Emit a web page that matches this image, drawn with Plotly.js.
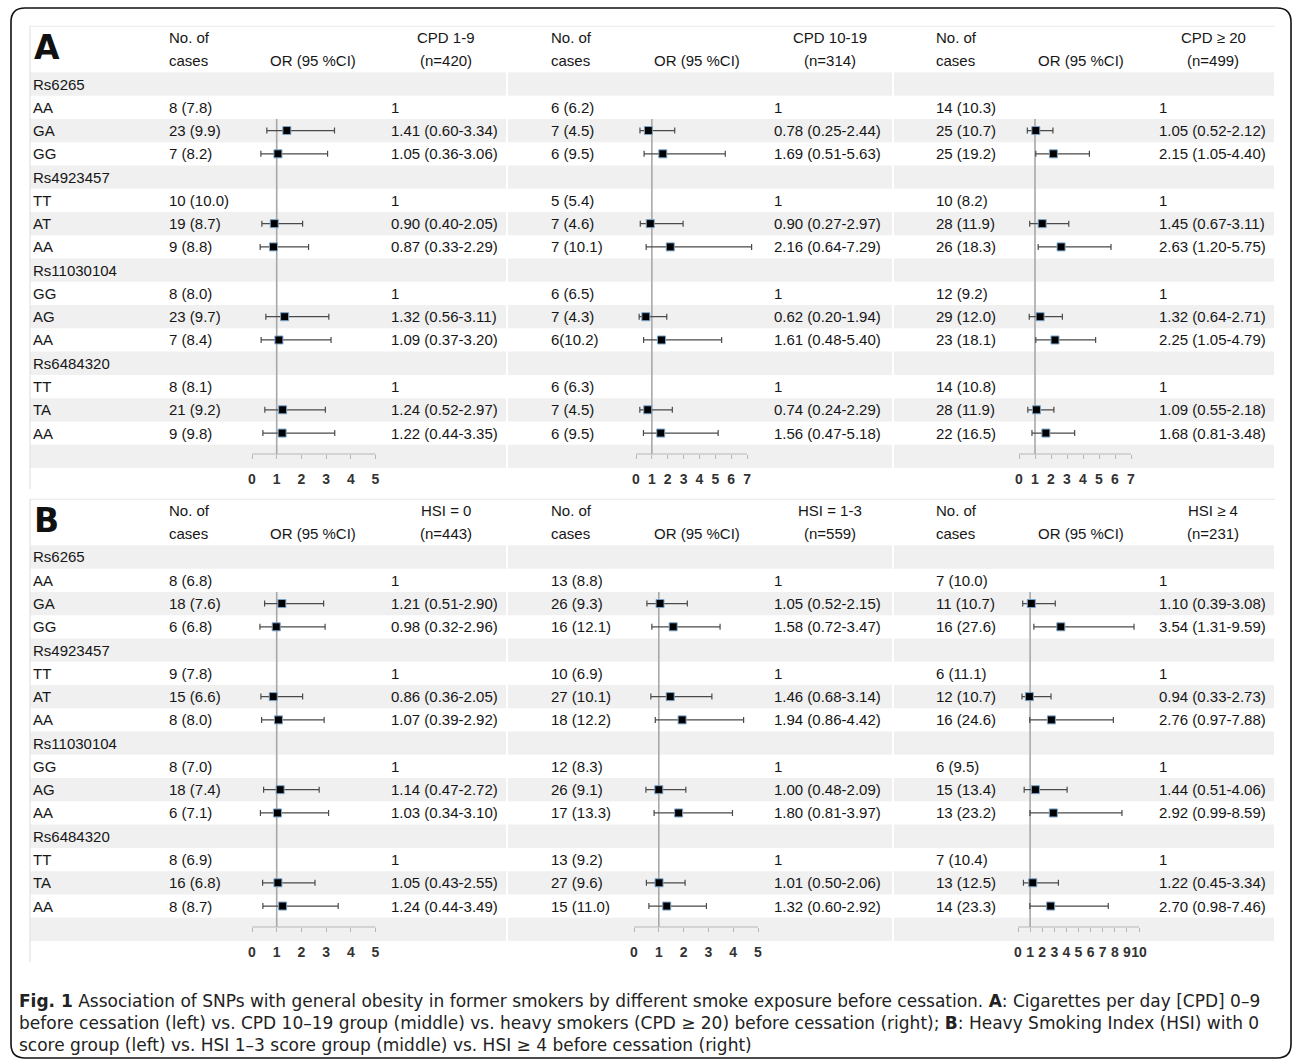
<!DOCTYPE html>
<html>
<head>
<meta charset="utf-8">
<script src="https://cdn.plot.ly/plotly-3.0.1.min.js"></script>
<style>
html,body{margin:0;padding:0;background:#fff;}
#chart{width:1292px;height:1061px;}
</style>
</head>
<body>
<div id="chart"></div>
<script>
// ---------------- DATA ----------------
const snpNames = ['Rs6265', 'Rs4923457', 'Rs11030104', 'Rs6484320'];
const genotypes = [['AA', 'GA', 'GG'], ['TT', 'AT', 'AA'], ['GG', 'AG', 'AA'], ['TT', 'TA', 'AA']];

const groupsA = ['CPD 1-9', 'CPD 10-19', 'CPD \u2265 20'];
const nA = ['(n=420)', '(n=314)', '(n=499)'];
const groupsB = ['HSI = 0', 'HSI = 1-3', 'HSI \u2265 4'];
const nB = ['(n=443)', '(n=559)', '(n=231)'];

// Panel A, CPD 1-9
const casesA1 = ['8 (7.8)', '23 (9.9)', '7 (8.2)', '10 (10.0)', '19 (8.7)', '9 (8.8)', '8 (8.0)', '23 (9.7)', '7 (8.4)', '8 (8.1)', '21 (9.2)', '9 (9.8)'];
const orA1 = [1, 1.41, 1.05, 1, 0.90, 0.87, 1, 1.32, 1.09, 1, 1.24, 1.22];
const loA1 = [null, 0.60, 0.36, null, 0.40, 0.33, null, 0.56, 0.37, null, 0.52, 0.44];
const hiA1 = [null, 3.34, 3.06, null, 2.05, 2.29, null, 3.11, 3.20, null, 2.97, 3.35];
// Panel A, CPD 10-19
const casesA2 = ['6 (6.2)', '7 (4.5)', '6 (9.5)', '5 (5.4)', '7 (4.6)', '7 (10.1)', '6 (6.5)', '7 (4.3)', '6(10.2)', '6 (6.3)', '7 (4.5)', '6 (9.5)'];
const orA2 = [1, 0.78, 1.69, 1, 0.90, 2.16, 1, 0.62, 1.61, 1, 0.74, 1.56];
const loA2 = [null, 0.25, 0.51, null, 0.27, 0.64, null, 0.20, 0.48, null, 0.24, 0.47];
const hiA2 = [null, 2.44, 5.63, null, 2.97, 7.29, null, 1.94, 5.40, null, 2.29, 5.18];
// Panel A, CPD >= 20
const casesA3 = ['14 (10.3)', '25 (10.7)', '25 (19.2)', '10 (8.2)', '28 (11.9)', '26 (18.3)', '12 (9.2)', '29 (12.0)', '23 (18.1)', '14 (10.8)', '28 (11.9)', '22 (16.5)'];
const orA3 = [1, 1.05, 2.15, 1, 1.45, 2.63, 1, 1.32, 2.25, 1, 1.09, 1.68];
const loA3 = [null, 0.52, 1.05, null, 0.67, 1.20, null, 0.64, 1.05, null, 0.55, 0.81];
const hiA3 = [null, 2.12, 4.40, null, 3.11, 5.75, null, 2.71, 4.79, null, 2.18, 3.48];
// Panel B, HSI = 0
const casesB1 = ['8 (6.8)', '18 (7.6)', '6 (6.8)', '9 (7.8)', '15 (6.6)', '8 (8.0)', '8 (7.0)', '18 (7.4)', '6 (7.1)', '8 (6.9)', '16 (6.8)', '8 (8.7)'];
const orB1 = [1, 1.21, 0.98, 1, 0.86, 1.07, 1, 1.14, 1.03, 1, 1.05, 1.24];
const loB1 = [null, 0.51, 0.32, null, 0.36, 0.39, null, 0.47, 0.34, null, 0.43, 0.44];
const hiB1 = [null, 2.90, 2.96, null, 2.05, 2.92, null, 2.72, 3.10, null, 2.55, 3.49];
// Panel B, HSI = 1-3
const casesB2 = ['13 (8.8)', '26 (9.3)', '16 (12.1)', '10 (6.9)', '27 (10.1)', '18 (12.2)', '12 (8.3)', '26 (9.1)', '17 (13.3)', '13 (9.2)', '27 (9.6)', '15 (11.0)'];
const orB2 = [1, 1.05, 1.58, 1, 1.46, 1.94, 1, 1.00, 1.80, 1, 1.01, 1.32];
const loB2 = [null, 0.52, 0.72, null, 0.68, 0.86, null, 0.48, 0.81, null, 0.50, 0.60];
const hiB2 = [null, 2.15, 3.47, null, 3.14, 4.42, null, 2.09, 3.97, null, 2.06, 2.92];
// Panel B, HSI >= 4
const casesB3 = ['7 (10.0)', '11 (10.7)', '16 (27.6)', '6 (11.1)', '12 (10.7)', '16 (24.6)', '6 (9.5)', '15 (13.4)', '13 (23.2)', '7 (10.4)', '13 (12.5)', '14 (23.3)'];
const orB3 = [1, 1.10, 3.54, 1, 0.94, 2.76, 1, 1.44, 2.92, 1, 1.22, 2.70];
const loB3 = [null, 0.39, 1.31, null, 0.33, 0.97, null, 0.51, 0.99, null, 0.45, 0.98];
const hiB3 = [null, 3.08, 9.59, null, 2.73, 7.88, null, 4.06, 8.59, null, 3.34, 7.46];

// Axis ticks
const ticksA1 = [0, 1, 2, 3, 4, 5];
const ticksA2 = [0, 1, 2, 3, 4, 5, 6, 7];
const ticksA3 = [0, 1, 2, 3, 4, 5, 6, 7];
const ticksB1 = [0, 1, 2, 3, 4, 5];
const ticksB2 = [0, 1, 2, 3, 4, 5];
const ticksB3 = [0, 1, 2, 3, 4, 5, 6, 7, 8, 9, 10];

const panelLetters = ['A', 'B'];
const captionLines = [
  '<b>Fig. 1</b> Association of SNPs with general obesity in former smokers by different smoke exposure before cessation. <b>A</b>: Cigarettes per day [CPD] 0\u20139',
  'before cessation (left) vs. CPD 10\u201319 group (middle) vs. heavy smokers (CPD \u2265 20) before cessation (right); <b>B</b>: Heavy Smoking Index (HSI) with 0',
  'score group (left) vs. HSI 1\u20133 score group (middle) vs. HSI \u2265 4 before cessation (right)'
];

// ---------------- LAYOUT GEOMETRY ----------------
const W = 1292, H = 1061, P = 23.27;
const panelTop = [84, 557];           // pixel centre of row 0 in each panel
const forestPx = [[252, 24.7], [636, 15.86], [1019, 16.0], [252, 24.7], [634, 24.8], [1018, 12.1]];
const casesX = [167, 549, 934];
const orHeadX = [313, 697, 1081];
const textX = [389, 772, 1157];
const groupX = [446, 830, 1213];
const bandSegs = [[30, 506], [508, 892], [894, 1274]];
const AXROW = 15.9;
const FONT = 'Arial, "Liberation Sans", sans-serif';
const TXT = '#161616';

// rows
const rowLabels = [];
const geneRows = [];
snpNames.forEach((s, i) => {
  rowLabels.push(s);
  genotypes[i].forEach(g => { geneRows.push(rowLabels.length); rowLabels.push(g); });
});

const forests = [
  {p: 0, g: 0, cases: casesA1, or: orA1, lo: loA1, hi: hiA1, ticks: ticksA1, head: groupsA[0], n: nA[0]},
  {p: 0, g: 1, cases: casesA2, or: orA2, lo: loA2, hi: hiA2, ticks: ticksA2, head: groupsA[1], n: nA[1]},
  {p: 0, g: 2, cases: casesA3, or: orA3, lo: loA3, hi: hiA3, ticks: ticksA3, head: groupsA[2], n: nA[2]},
  {p: 1, g: 0, cases: casesB1, or: orB1, lo: loB1, hi: hiB1, ticks: ticksB1, head: groupsB[0], n: nB[0]},
  {p: 1, g: 1, cases: casesB2, or: orB2, lo: loB2, hi: hiB2, ticks: ticksB2, head: groupsB[1], n: nB[1]},
  {p: 1, g: 2, cases: casesB3, or: orB3, lo: loB3, hi: hiB3, ticks: ticksB3, head: groupsB[2], n: nB[2]}
];

function yDom(p) {
  const top = panelTop[p] - 2.5 * P, bot = panelTop[p] + 17.5 * P;
  return [1 - bot / H, 1 - top / H];
}
function rowPaper(p, r) { const d = yDom(p); return d[0] + (17.5 - r) / 20 * (d[1] - d[0]); }
const yName = p => (p === 0 ? 'y' : 'y2');

const layout = {
  width: W, height: H,
  margin: {l: 0, r: 0, t: 0, b: 0},
  paper_bgcolor: '#fff', plot_bgcolor: 'rgba(0,0,0,0)',
  showlegend: false,
  yaxis: {domain: yDom(0), range: [17.5, -2.5], visible: false, fixedrange: true, anchor: 'x'},
  yaxis2: {domain: yDom(1), range: [17.5, -2.5], visible: false, fixedrange: true, anchor: 'x4'},
  shapes: [], annotations: []
};
const traces = [];

function ann(p, xpx, row, text, opt) {
  layout.annotations.push(Object.assign({
    xref: 'paper', yref: yName(p), x: xpx / W, y: row, text: text, showarrow: false,
    xanchor: 'left', yanchor: 'middle', font: {family: FONT, size: 15, color: TXT}
  }, opt || {}));
}

// bands, borders, left labels, letters
[0, 1].forEach(p => {
  for (let r = 0; r <= 16; r += 2) {
    bandSegs.forEach(s => layout.shapes.push({
      type: 'rect', layer: 'below', xref: 'paper', yref: yName(p),
      x0: s[0] / W, x1: s[1] / W, y0: r - 0.5, y1: r + 0.5,
      fillcolor: '#f0f0f0', line: {width: 0}
    }));
  }
  layout.shapes.push({type: 'line', layer: 'below', xref: 'paper', yref: yName(p),
    x0: 30 / W, x1: 1275 / W, y0: -2.5, y1: -2.5, line: {color: '#dedede', width: 1.2}});
  layout.shapes.push({type: 'line', layer: 'below', xref: 'paper', yref: yName(p),
    x0: 30 / W, x1: 30 / W, y0: -2.5, y1: 17.4, line: {color: '#e2e2e2', width: 1.2}});
  rowLabels.forEach((lab, r) => ann(p, 31, r, lab));
  ann(p, 32, -1.55, '<b>' + panelLetters[p] + '</b>', {font: {family: 'DejaVu Sans, Arial, sans-serif', size: 33, color: '#111'}});
});

// forests
forests.forEach((f, i) => {
  const xn = i === 0 ? 'x' : 'x' + (i + 1);
  const xk = i === 0 ? 'xaxis' : 'xaxis' + (i + 1);
  const px0 = forestPx[i][0], u = forestPx[i][1];
  const T = f.ticks[f.ticks.length - 1];
  const rmax = T * 1.3;
  layout[xk] = {
    domain: [(px0 - 0.5 * u) / W, (px0 + rmax * u) / W], range: [-0.5, rmax],
    anchor: 'free', position: rowPaper(f.p, AXROW),
    showgrid: false, zeroline: false, showline: false,
    ticks: 'outside', ticklen: 4, tickwidth: 1, tickcolor: '#b5b5b5',
    tickvals: f.ticks, ticktext: f.ticks.map(String), tickangle: 0,
    tickfont: {family: FONT, size: 14, color: '#333', weight: 'bold'},
    ticklabelstandoff: 8, fixedrange: true
  };
  // axis line spanning the tick range
  layout.shapes.push({type: 'line', layer: 'below', xref: xn, yref: yName(f.p),
    x0: f.ticks[0], x1: T, y0: AXROW, y1: AXROW, line: {color: '#b5b5b5', width: 1.2}});
  // reference line at OR = 1
  layout.shapes.push({type: 'line', layer: 'below', xref: xn, yref: yName(f.p),
    x0: 1, x1: 1, y0: 1.5, y1: AXROW, line: {color: '#a8a8a8', width: 1.6}});

  const xs = [], ys = [], ep = [], em = [];
  f.or.forEach((v, k) => {
    if (f.lo[k] === null) return;
    xs.push(v); ys.push(geneRows[k]);
    ep.push(f.hi[k] - v); em.push(v - f.lo[k]);
  });
  traces.push({
    type: 'scatter', mode: 'markers', x: xs, y: ys, xaxis: xn, yaxis: yName(f.p),
    marker: {symbol: 'square', size: 8, color: '#000', line: {color: '#7aa6cc', width: 1}},
    error_x: {type: 'data', array: ep, arrayminus: em, color: '#4a4a4a', thickness: 1.2, width: 3},
    hoverinfo: 'skip', cliponaxis: false
  });

  // headers
  ann(f.p, casesX[f.g], -2, 'No. of');
  ann(f.p, casesX[f.g], -1, 'cases');
  ann(f.p, orHeadX[f.g], -1, 'OR (95 %CI)', {xanchor: 'center'});
  ann(f.p, groupX[f.g], -2, f.head, {xanchor: 'center'});
  ann(f.p, groupX[f.g], -1, f.n, {xanchor: 'center'});
  // rows
  f.cases.forEach((c, k) => {
    const r = geneRows[k];
    ann(f.p, casesX[f.g], r, c);
    const t = f.lo[k] === null ? String(f.or[k]) :
      f.or[k].toFixed(2) + ' (' + f.lo[k].toFixed(2) + '-' + f.hi[k].toFixed(2) + ')';
    ann(f.p, textX[f.g], r, t);
  });
});

// caption
const capY = [1001, 1023, 1045];
captionLines.forEach((t, i) => layout.annotations.push({
  xref: 'paper', yref: 'paper', x: 18 / W, y: 1 - capY[i] / H, text: t, showarrow: false,
  xanchor: 'left', yanchor: 'middle', align: 'left', borderpad: 0,
  font: {family: 'DejaVu Sans, Open Sans, sans-serif', size: 17, color: '#222'}
}));

// outer rounded frame
(function () {
  const l = 11, R = 1291, t = 8, b = 1058, rr = 14;
  const X = v => (v / W).toFixed(5), Y = v => (1 - v / H).toFixed(5);
  const path = 'M' + X(l + rr) + ',' + Y(t) + ' L' + X(R - rr) + ',' + Y(t) +
    ' Q' + X(R) + ',' + Y(t) + ' ' + X(R) + ',' + Y(t + rr) +
    ' L' + X(R) + ',' + Y(b - rr) + ' Q' + X(R) + ',' + Y(b) + ' ' + X(R - rr) + ',' + Y(b) +
    ' L' + X(l + rr) + ',' + Y(b) + ' Q' + X(l) + ',' + Y(b) + ' ' + X(l) + ',' + Y(b - rr) +
    ' L' + X(l) + ',' + Y(t + rr) + ' Q' + X(l) + ',' + Y(t) + ' ' + X(l + rr) + ',' + Y(t) + ' Z';
  layout.shapes.push({type: 'path', xref: 'paper', yref: 'paper', path: path, layer: 'above',
    line: {color: '#111', width: 1.6}});
})();

Plotly.newPlot('chart', traces, layout, {staticPlot: true, displayModeBar: false});
</script>
</body>
</html>
